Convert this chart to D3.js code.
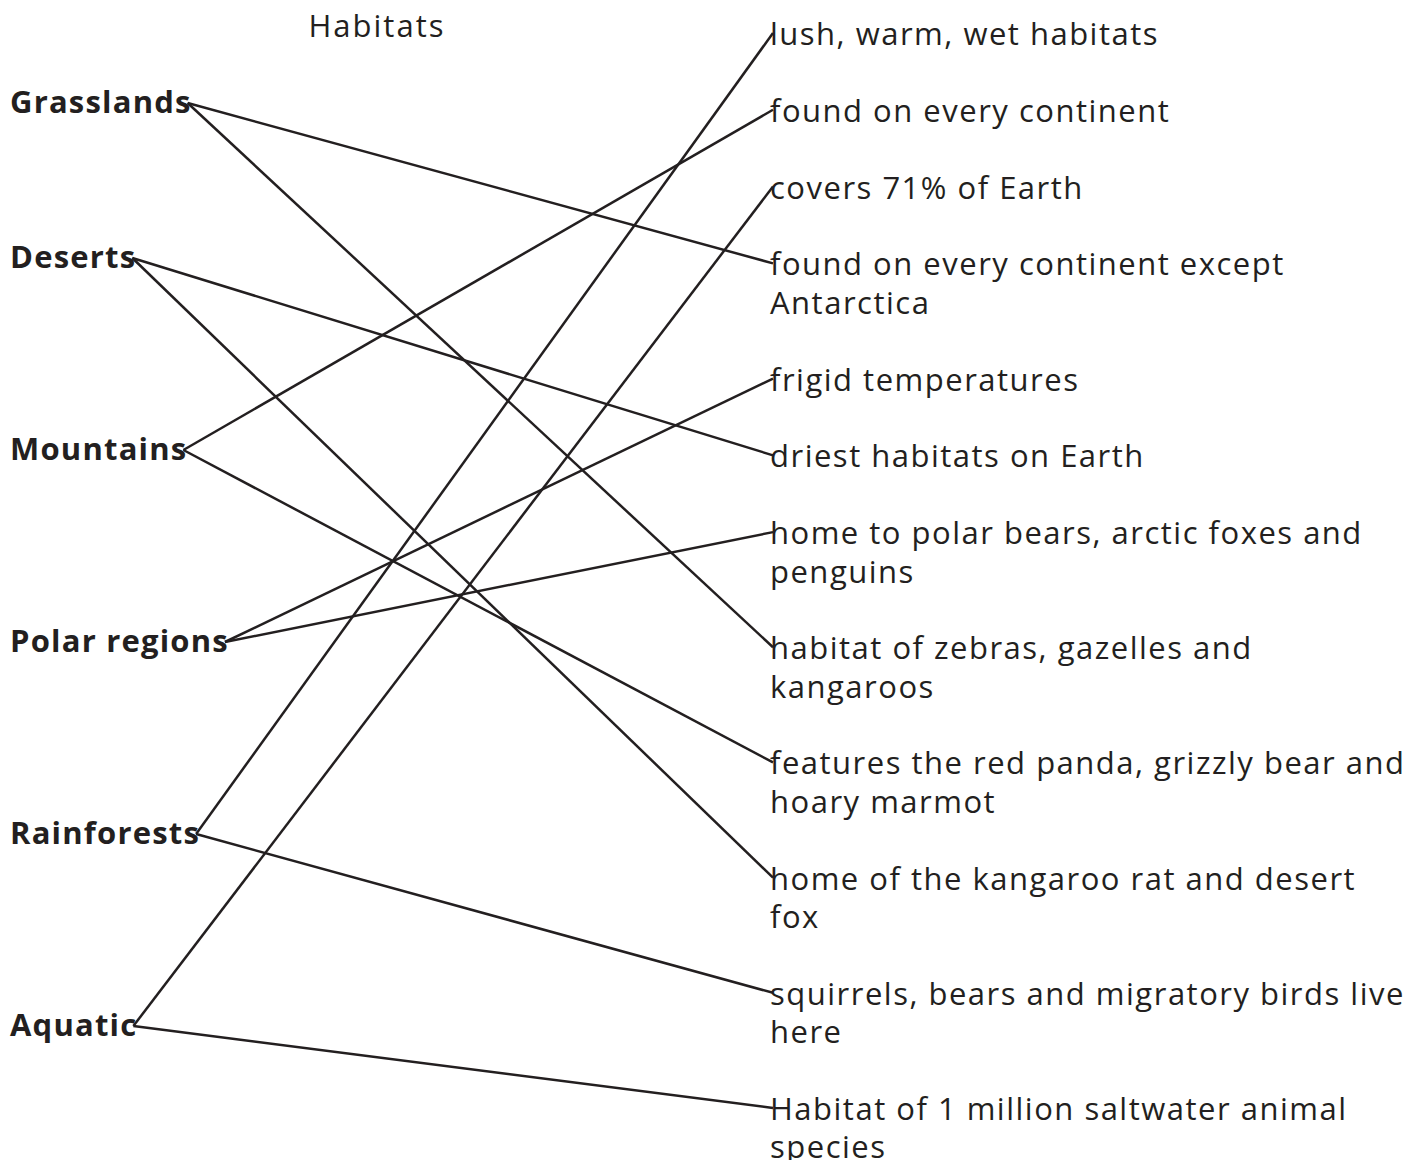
<!DOCTYPE html>
<html>
<head>
<meta charset="utf-8">
<script src="https://cdn.jsdelivr.net/npm/d3@7"></script>
<style>
  body { margin: 0; background: #fff; }
  svg { display: block; font-family: "Open Sans", sans-serif; }
</style>
</head>
<body>
<div id="chart"></div>
<script>
const WIDTH = 1422, HEIGHT = 1160;
const INK = "#231f20";

// left column: habitats
const habitats = ["Grasslands", "Deserts", "Mountains", "Polar regions", "Rainforests", "Aquatic"];

// right column: descriptions (line breaks as in the original)
const facts = [
  ["lush, warm, wet habitats"],
  ["found on every continent"],
  ["covers 71% of Earth"],
  ["found on every continent except", "Antarctica"],
  ["frigid temperatures"],
  ["driest habitats on Earth"],
  ["home to polar bears, arctic foxes and", "penguins"],
  ["habitat of zebras, gazelles and", "kangaroos"],
  ["features the red panda, grizzly bear and", "hoary marmot"],
  ["home of the kangaroo rat and desert", "fox"],
  ["squirrels, bears and migratory birds live", "here"],
  ["Habitat of 1 million saltwater animal", "species"]
];

// which habitat matches which fact
const linkFrom = ["Grasslands", "Grasslands", "Deserts", "Deserts", "Mountains", "Mountains",
                  "Polar regions", "Polar regions", "Rainforests", "Rainforests", "Aquatic", "Aquatic"];
const linkTo = [3, 7, 5, 9, 1, 8, 4, 6, 0, 10, 2, 11];

const svg = d3.select("#chart").append("svg")
  .attr("width", WIDTH)
  .attr("height", HEIGHT);

// title
svg.append("text")
  .attr("x", 377).attr("y", 25)
  .attr("text-anchor", "middle")
  .attr("dominant-baseline", "central")
  .attr("font-size", 31)
  .attr("letter-spacing", 2)
  .attr("fill", INK)
  .text("Habitats");

// left positions, first one kept clear of the title
const yLeft = d3.scaleLinear().domain([0, habitats.length - 1]).range([64, 1024]);
const leftY = d => Math.max(yLeft(habitats.indexOf(d)), 101);

const leftText = svg.append("g").selectAll("text")
  .data(habitats)
  .join("text")
    .attr("x", 10)
    .attr("y", d => leftY(d))
    .attr("dominant-baseline", "central")
    .attr("font-size", 31)
    .attr("font-weight", 700)
    .attr("letter-spacing", 1.2)
    .attr("fill", INK)
    .text(d => d);

const leftEnd = {};
leftText.each(function(d) { leftEnd[d] = 10 + this.getComputedTextLength(); });

// right positions stacked in line units (a blank line between items)
const starts = [];
let acc = 0;
facts.forEach(f => { starts.push(acc); acc += f.length + 1; });
const yRight = d3.scaleLinear().domain([0, starts[starts.length - 1]]).range([33, 1108]);
const lineH = yRight(1) - yRight(0);
const RX = 770;

svg.append("g").selectAll("text")
  .data(facts)
  .join("text")
    .attr("x", RX)
    .attr("y", (d, i) => yRight(starts[i]))
    .attr("dominant-baseline", "central")
    .attr("font-size", 31)
    .attr("letter-spacing", 1.5)
    .attr("fill", INK)
  .selectAll("tspan")
  .data(d => d)
  .join("tspan")
    .attr("x", RX)
    .attr("dy", (d, i) => i === 0 ? 0 : lineH)
    .text(d => d);

// connecting lines
svg.append("g").selectAll("line")
  .data(linkFrom.map((s, i) => ({source: s, target: linkTo[i]})))
  .join("line")
    .attr("x1", d => leftEnd[d.source] - 4)
    .attr("y1", d => leftY(d.source) + 2)
    .attr("x2", RX + 3)
    .attr("y2", d => yRight(starts[d.target]))
    .attr("stroke", INK)
    .attr("stroke-width", 2.5);
</script>
</body>
</html>
